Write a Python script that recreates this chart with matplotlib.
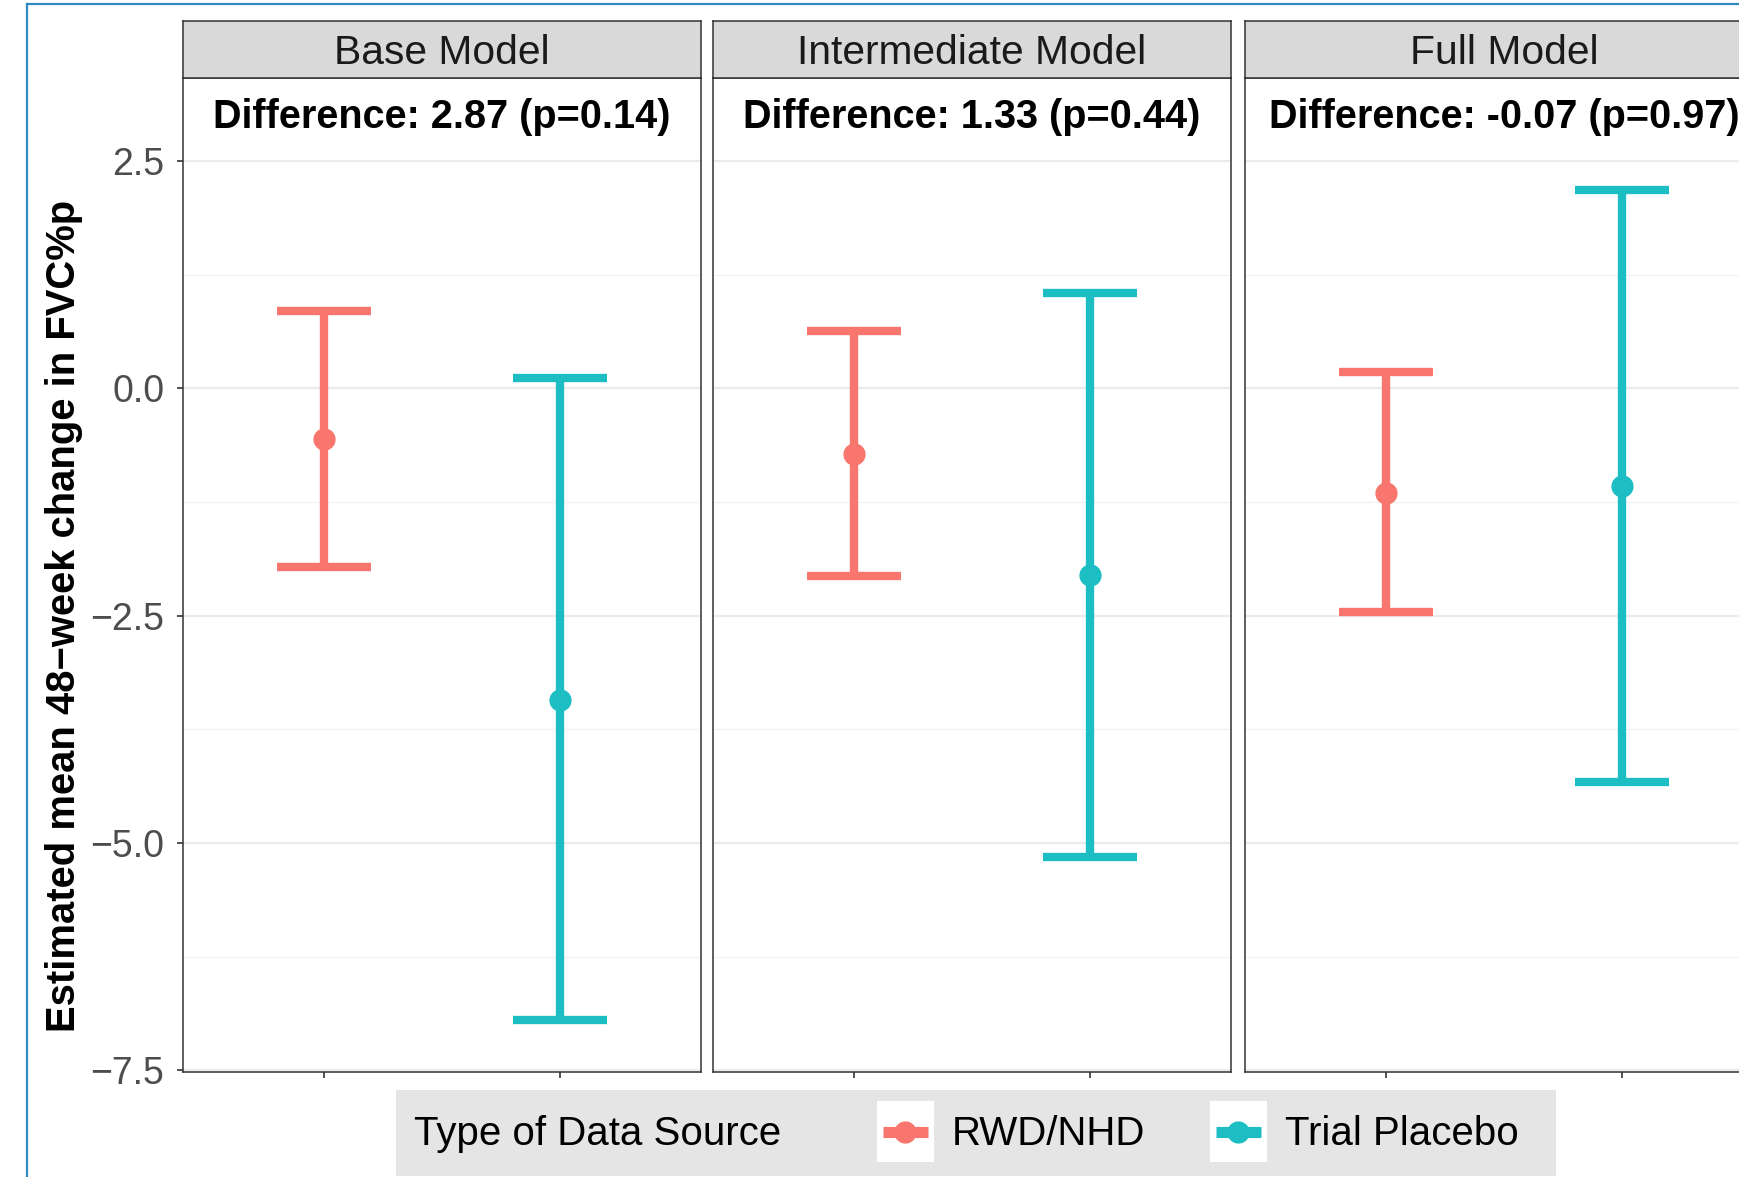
import matplotlib.pyplot as plt
from matplotlib.patches import Rectangle

plt.rcParams['font.family'] = ['Liberation Sans', 'DejaVu Sans']

# data
models = ['Base Model', 'Intermediate Model', 'Full Model']
diff_labels = ['Difference: 2.87 (p=0.14)', 'Difference: 1.33 (p=0.44)',
               'Difference: -0.07 (p=0.97)']
sources = ['RWD/NHD', 'Trial Placebo']
colors = ['#F8766D', '#1CBEC4']
est = [[-0.56, -3.43], [-0.72, -2.05], [-1.15, -1.07]]
lower = [[-1.96, -6.95], [-2.06, -5.15], [-2.46, -4.33]]
upper = [[0.85, 0.11], [0.63, 1.05], [0.18, 2.18]]
yticks = [-7.5, -5.0, -2.5, 0.0, 2.5]
ytick_labels = ['\u22127.5', '\u22125.0', '\u22122.5', '0.0', '2.5']
ylab = 'Estimated mean 48\u2212week change in FVC%p'
legend_title = 'Type of Data Source'

W, H = 1740, 1177
fig = plt.figure(figsize=(W / 100, H / 100), dpi=100)

panel_x = [183, 713, 1245]
panel_w = 518
top, bottom, strip_top = 78, 1072, 21
dark = '#333333'

for i in range(3):
    x0 = panel_x[i]
    ax = fig.add_axes([x0 / W, 1 - bottom / H, panel_w / W, (bottom - top) / H])
    for j in range(2):
        x = j + 1
        ax.vlines(x, lower[i][j], upper[i][j], color=colors[j], lw=6, zorder=3)
        ax.hlines([lower[i][j], upper[i][j]], x - 0.2, x + 0.2, color=colors[j], lw=6, zorder=3)
        ax.plot(x, est[i][j], 'o', color=colors[j], ms=15, zorder=4)
    ax.set_xlim(0.4, 2.6)
    ax.set_ylim(-7.52, 3.415)
    ax.set_xticks([1, 2])
    ax.set_xticklabels([])
    ax.set_yticks(yticks)
    ax.set_yticks([-6.25, -3.75, -1.25, 1.25], minor=True)
    ax.grid(which='major', axis='y', color='#EBEBEB', lw=1.6, zorder=0)
    ax.grid(which='minor', axis='y', color='#F2F2F2', lw=0.9, zorder=0)
    ax.tick_params(axis='y', which='minor', length=0)
    ax.tick_params(axis='x', length=4.5, width=1.2, color=dark)
    if i == 0:
        ax.set_yticklabels(ytick_labels)
        ax.tick_params(axis='y', length=4.5, width=1.2, color=dark, labelsize=27,
                       labelcolor='#4D4D4D', pad=9)
    else:
        ax.tick_params(axis='y', length=0, labelleft=False)
    for s in ax.spines.values():
        s.set_color(dark)
        s.set_linewidth(1.1)
    ax.text(1.5, 2.99, diff_labels[i], ha='center', va='center',
            fontsize=28.5, fontweight='bold', color='black')

    st = fig.add_axes([x0 / W, 1 - top / H, panel_w / W, (top - strip_top) / H])
    st.set_facecolor('#D9D9D9')
    st.set_xticks([])
    st.set_yticks([])
    for s in st.spines.values():
        s.set_color(dark)
        s.set_linewidth(1.1)
    st.text(0.5, 0.43, models[i], ha='center', va='center', fontsize=29.3,
            color='#1A1A1A', transform=st.transAxes)

# overlay in pixel coordinates for frame, y label and legend
ov = fig.add_axes([0, 0, 1, 1], zorder=10)
ov.set_xlim(0, W)
ov.set_ylim(H, 0)
ov.axis('off')
ov.patch.set_alpha(0)

ov.plot([27, 27], [4, H], color='#2E8BC0', lw=1.6)
ov.plot([27, W], [4, 4], color='#2E8BC0', lw=1.6)

ov.text(64, 616, ylab, rotation=90, ha='center', va='center',
        fontsize=28.8, fontweight='bold', color='black')

ov.add_patch(Rectangle((396, 1090), 1160, 86, fc='#E5E5E5', ec='none'))
ov.text(414, 1134, legend_title, ha='left', va='center', fontsize=29, color='black')
key_x = [877, 1210]
text_x = [952, 1285]
for j in range(2):
    ov.add_patch(Rectangle((key_x[j], 1101), 57, 61, fc='white', ec='none'))
    ov.plot([key_x[j] + 6, key_x[j] + 51], [1132, 1132], color=colors[j], lw=8,
            solid_capstyle='butt')
    ov.plot(key_x[j] + 28.5, 1132, 'o', color=colors[j], ms=15)
    ov.text(text_x[j], 1134, sources[j], ha='left', va='center', fontsize=29, color='black')

fig.savefig('out.png', dpi=100)
